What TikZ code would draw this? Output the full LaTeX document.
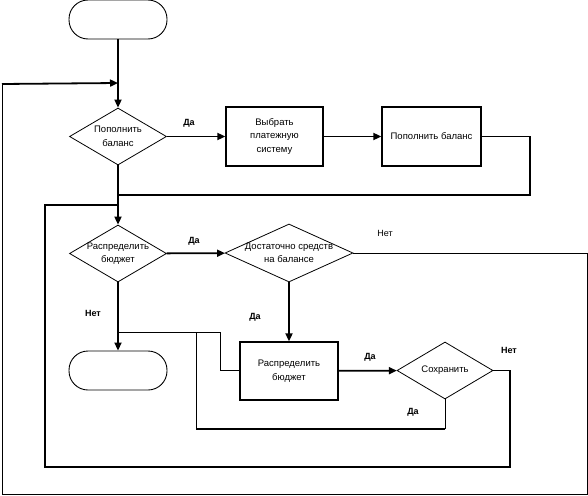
\documentclass[tikz,border=0pt]{standalone}
\usepackage{fontspec}
\setmainfont{Liberation Sans}
\usetikzlibrary{shapes.geometric,arrows.meta}
\begin{document}
\begin{tikzpicture}[x=1pt,y=-1pt,
  txt/.style={font=\fontsize{9.5}{13.5}\selectfont,align=center,inner sep=0pt},
  lbl/.style={font=\fontsize{9}{11}\selectfont\bfseries,inner sep=0pt},
  lbln/.style={font=\fontsize{9}{11}\selectfont,inner sep=0pt},
  term/.style={draw,line width=0.9pt,rectangle,rounded corners=19pt,minimum width=98pt,minimum height=39pt,inner sep=0pt},
  proc/.style={draw,line width=1.3pt,rectangle,inner sep=0pt},
  dia/.style={draw,line width=0.8pt,diamond,inner sep=0pt},
  thick/.style={line width=1.8pt},
  thin/.style={line width=0.9pt},
  arr/.style={-{Triangle[length=8pt,width=7pt]}}]
\useasboundingbox (0,0) rectangle (588,495);

\node[term] (t1) at (118,19.5) {};
\node[dia,minimum width=97pt,minimum height=57pt,label={[txt]center:Пополнить\\баланс}] (d1) at (118,136.5) {};
\node[proc,minimum width=97pt,minimum height=59pt,txt] (b1) at (274.5,136.5) {Выбрать\\платежную\\систему};
\node[proc,minimum width=99pt,minimum height=59pt,txt] (b2) at (431.5,136.5) {Пополнить баланс};
\node[dia,minimum width=97pt,minimum height=57pt,label={[txt]center:Распределить\\бюджет}] (d2) at (118,253.5) {};
\node[dia,minimum width=128pt,minimum height=58pt,label={[txt]center:Достаточно средств\\на балансе}] (d3) at (289,253) {};
\node[term] (t2) at (118,370.5) {};
\node[proc,minimum width=98pt,minimum height=58pt,txt] (b3) at (289,371) {Распределить\\бюджет};
\node[dia,minimum width=96pt,minimum height=57pt,label={[txt]center:Сохранить}] (d4) at (445,370.5) {};

\coordinate (j1) at (118,83);
\coordinate (j2) at (118,195);
\coordinate (j3) at (118,205);
\coordinate (j4) at (118,332);

% connectors
\draw[thick,arr] (t1) -- (d1);
\draw[thin] (d3.east) -- (587,253) -- (587,494) -- (2,494) -- (2,84);
\draw[thick,arr] (2,84) -- (j1);
\draw[thick,arr] (d1) -- (b1);
\draw[thick,arr] (b1) -- (b2);
\draw[thick] (b2.east) -- (530,136.5) -- (530,195) -- (j2);
\draw[thick,arr] (d1) -- (d2);
\draw[thick,arr] (d2) -- (d3);
\draw[thick,arr] (d3) -- (b3);
\draw[thick,arr] (d2) -- (t2);
\draw[thin] (j4) -- (220,332) -- (220,370) -- (b3.west |- 0,370);
\draw[thick,arr] (b3) -- (d4);
\draw[thick] (d4.east) -- (510,370.5) -- (510,467) -- (45,467) -- (45,205) -- (j3);
\draw[thin] (d4.south) -- (445,429);
\draw[thick] (445,429) -- (196,429);
\draw[thin] (196,429) -- (196,332);

% labels
\node[lbl] (l1) at (189,123) {Да};
\node[lbl] (l2) at (194,241) {Да};
\node[lbln] (l3) at (385,233) {Нет};
\node[lbl] (l4) at (255,317) {Да};
\node[lbl] (l5) at (93,313) {Нет};
\node[lbl] (l6) at (370,357) {Да};
\node[lbl] (l7) at (509,350) {Нет};
\node[lbl] (l8) at (413,412) {Да};
\end{tikzpicture}
\end{document}
